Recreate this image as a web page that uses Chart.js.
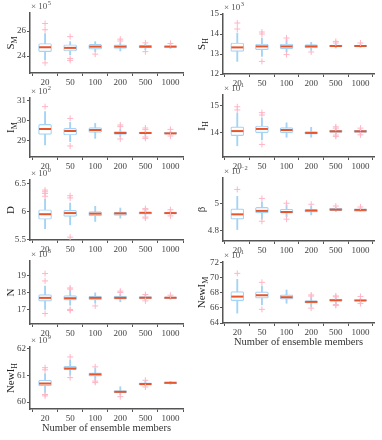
<!DOCTYPE html>
<html>
<head>
<meta charset="utf-8">
<script src="https://cdn.jsdelivr.net/npm/chart.js@4.4.0/dist/chart.umd.min.js"></script>
<style>
  html, body { margin: 0; padding: 0; background: #fff; }
  #wrap { position: relative; width: 382px; height: 440px; overflow: hidden; }
  #wrap canvas { position: absolute; }
</style>
</head>
<body>
<div id="wrap"></div>
<script>
// Taille d'ensemble (axe x commun)
const members = ['20', '50', '100', '200', '500', '1000'];

// Statistiques des boîtes : [moustache basse, Q1, médiane, Q3, moustache haute]
const sMBox = [[23.7, 24.35, 24.7, 25.0, 25.8], [24.1, 24.4, 24.65, 24.9, 25.15], [24.35, 24.55, 24.75, 24.93, 25.15], [24.4, 24.6, 24.75, 24.9, 25.05], [24.5, 24.65, 24.75, 24.85, 24.95], [24.6, 24.68, 24.75, 24.82, 24.9]];
const sMOut = [[26.6, 26.1, 23.45], [25.55, 23.8, 23.65], [24.15], [25.35, 25.2], [25.05, 24.35], [25.0]];
const sMTicks = [24, 26];

const sHBox = [[12.63, 13.13, 13.33, 13.55, 14.05], [12.88, 13.22, 13.38, 13.5, 13.8], [13.1, 13.27, 13.38, 13.5, 13.72], [13.18, 13.3, 13.38, 13.47, 13.58], [13.3, 13.35, 13.4, 13.45, 13.5], [13.33, 13.36, 13.4, 13.44, 13.48]];
const sHOut = [[14.55, 14.25], [14.1, 14.0, 12.63], [13.8, 12.97], [13.1], [13.63, 13.55], [13.55]];
const sHTicks = [12, 13, 14, 15];

const iMBox = [[28.8, 29.33, 29.6, 29.83, 30.47], [28.97, 29.3, 29.5, 29.63, 29.93], [29.13, 29.43, 29.55, 29.67, 29.88], [29.2, 29.33, 29.4, 29.47, 29.6], [29.28, 29.35, 29.4, 29.45, 29.5], [29.3, 29.35, 29.38, 29.43, 29.48]];
const iMOut = [[30.72], [30.13, 28.75], [], [29.8, 29.72, 29.1], [29.65, 29.57, 29.2, 29.13], [29.58, 29.25]];
const iMTicks = [29, 30, 31];

const iHBox = [[13.51, 13.89, 14.06, 14.22, 14.73], [13.73, 14.0, 14.14, 14.25, 14.54], [13.83, 14.0, 14.1, 14.19, 14.37], [13.83, 13.94, 13.99, 14.04, 14.2], [13.95, 14.01, 14.05, 14.1, 14.15], [13.97, 14.01, 14.05, 14.09, 14.12]];
const iHOut = [[14.97, 14.85], [14.75, 14.66, 13.56], [], [], [14.22, 14.17, 13.91, 13.86], [14.17, 13.92]];
const iHTicks = [14, 15];

const dBox = [[5.69, 5.86, 5.95, 6.03, 6.22], [5.76, 5.91, 5.97, 6.02, 6.15], [5.82, 5.92, 5.96, 5.995, 6.09], [5.88, 5.93, 5.965, 5.99, 6.06], [5.93, 5.95, 5.975, 5.99, 6.02], [5.94, 5.955, 5.97, 5.99, 6.01]];
const dOut = [[6.38, 6.35, 6.32, 6.27], [6.28, 6.24, 5.54], [], [], [6.05, 6.03, 5.9, 5.88], [6.03, 5.92]];
const dTicks = [5.5, 6, 6.5];

const betaBox = [[4.81, 4.885, 4.92, 4.96, 5.05], [4.885, 4.93, 4.945, 4.97, 5.01], [4.903, 4.928, 4.937, 4.957, 4.988], [4.916, 4.935, 4.947, 4.957, 4.98], [4.94, 4.947, 4.954, 4.964, 4.97], [4.94, 4.942, 4.952, 4.959, 4.965]];
const betaOut = [[5.10], [5.035, 4.87], [5.0, 4.885], [4.993], [4.98], [4.973]];
const betaTicks = [4.8, 5];

const nBox = [[17.0, 17.48, 17.68, 17.88, 18.38], [17.24, 17.54, 17.66, 17.82, 18.14], [17.38, 17.58, 17.68, 17.78, 17.98], [17.45, 17.6, 17.68, 17.78, 17.9], [17.58, 17.62, 17.69, 17.75, 17.82], [17.6, 17.64, 17.69, 17.73, 17.78]];
const nOut = [[19.13, 18.69, 16.75], [18.27, 18.2, 16.99, 16.93], [17.2], [18.08, 18.0], [17.88, 17.5], [17.84]];
const nTicks = [17, 18, 19];

const newIMBox = [[65.3, 66.95, 67.48, 68.13, 69.75], [66.4, 67.27, 67.66, 68.1, 68.88], [66.6, 67.14, 67.4, 67.7, 68.35], [66.17, 66.6, 66.78, 66.95, 67.4], [66.5, 66.88, 67.0, 67.14, 67.35], [66.7, 66.9, 66.97, 67.05, 67.2]];
const newIMOut = [[70.54], [69.36, 65.8], [], [67.7, 67.55, 65.96], [67.57, 67.45, 66.43, 66.3], [67.5, 66.56]];
const newIMTicks = [64, 66, 68, 70, 72];

const newIHBox = [[60.36, 60.6, 60.69, 60.815, 61.06], [61.0, 61.21, 61.25, 61.33, 61.56], [60.84, 60.96, 61.03, 61.09, 61.25], [60.26, 60.35, 60.38, 60.43, 60.57], [60.61, 60.63, 60.67, 60.715, 60.77], [60.66, 60.68, 60.715, 60.75, 60.77]];
const newIHOut = [[61.28, 61.2, 60.28, 60.23], [61.68, 60.91], [61.31, 60.78, 60.73], [60.2], [60.81, 60.56], []];
const newIHTicks = [60, 61, 62];

const SERIF = '"Liberation Serif", "Times New Roman", serif';
const BLUE = '#a3d3f5';
const ORANGE = '#e8552b';
const PINK = '#ffb5c5';
const AXIS = '#555';

// Panneaux : zone du graphique [gauche, haut, droite, bas] en pixels de page
const panels = [
  { box: sMBox, out: sMOut, ticks: sMTicks, min: 22.64, max: 27.44, title: 'S', sub: 'M', exp: '5', col: 0, area: [30, 13, 185, 73] },
  { box: sHBox, out: sHOut, ticks: sHTicks, min: 12, max: 15, title: 'S', sub: 'H', exp: '3', col: 1, area: [223, 14, 379, 74] },
  { box: iMBox, out: iMOut, ticks: iMTicks, min: 28.2, max: 31.15, title: 'I', sub: 'M', exp: '2', col: 0, area: [30, 98, 185, 157] },
  { box: iHBox, out: iHOut, ticks: iHTicks, min: 13.09, max: 15.41, title: 'I', sub: 'H', exp: '1', col: 1, area: [223, 95, 379, 157] },
  { box: dBox, out: dOut, ticks: dTicks, min: 5.49, max: 6.56, title: 'D', sub: '', exp: '0', col: 0, area: [30, 180, 185, 240] },
  { box: betaBox, out: betaOut, ticks: betaTicks, min: 4.727, max: 5.183, title: 'β', sub: '', exp: '−2', col: 1, area: [223, 178, 379, 241] },
  { box: nBox, out: nOut, ticks: nTicks, min: 16.125, max: 19.875, title: 'N', sub: '', exp: '3', col: 0, area: [30, 261, 185, 324] },
  { box: newIMBox, out: newIMOut, ticks: newIMTicks, min: 64, max: 72.04, title: 'NewI', sub: 'M', exp: '1', col: 1, area: [223, 262, 379, 323], xTitle: true },
  { box: newIHBox, out: newIHOut, ticks: newIHTicks, min: 59.74, max: 62.05, title: 'NewI', sub: 'H', exp: '9', col: 0, area: [30, 347, 185, 409], xTitle: true }
];

// Plugin pour les textes : multiplicateur, titre y avec indice, titre x
const panelText = {
  id: 'panelText',
  afterDraw(chart, args, opts) {
    const ctx = chart.ctx;
    const a = chart.chartArea;
    ctx.save();
    ctx.textAlign = 'left';
    ctx.textBaseline = 'alphabetic';
    ctx.fillStyle = '#555';
    ctx.font = '9px ' + SERIF;
    let x = a.left + 1;
    const y = a.top - 4;
    ctx.fillText('× 10', x, y);
    x += ctx.measureText('× 10').width + 0.5;
    ctx.font = '6.5px ' + SERIF;
    ctx.fillText(opts.exp, x, y - 4);

    if (opts.xTitle) {
      ctx.fillStyle = '#333';
      ctx.font = '10.5px ' + SERIF;
      ctx.textAlign = 'center';
      ctx.textBaseline = 'middle';
      ctx.fillText('Number of ensemble members', (a.left + a.right) / 2, a.bottom + 19);
    }

    ctx.fillStyle = '#222';
    ctx.textAlign = 'left';
    ctx.textBaseline = 'alphabetic';
    ctx.translate(10, (a.top + a.bottom) / 2);
    ctx.rotate(-Math.PI / 2);
    ctx.font = '11px ' + SERIF;
    const w1 = ctx.measureText(opts.title).width;
    ctx.font = '8px ' + SERIF;
    const w2 = opts.sub ? ctx.measureText(opts.sub).width : 0;
    const start = -(w1 + w2) / 2;
    ctx.font = '11px ' + SERIF;
    ctx.fillText(opts.title, start, 4);
    if (opts.sub) {
      ctx.font = '8px ' + SERIF;
      ctx.fillText(opts.sub, start + w1, 6.5);
    }
    ctx.restore();
  }
};

function makePanel(p) {
  const wrap = document.getElementById('wrap');
  const left = p.col * 191;
  const padTop = 15;
  const xH = p.xTitle ? 31 : 16;
  const canvas = document.createElement('canvas');
  canvas.width = 191;
  canvas.height = p.area[3] - p.area[1] + padTop + xH;
  canvas.style.left = left + 'px';
  canvas.style.top = (p.area[1] - padTop) + 'px';
  wrap.appendChild(canvas);

  const yW = p.area[0] - left;
  const padRight = left + 191 - p.area[2];
  const idx = members.map((m, i) => i);

  const outliers = [];
  p.out.forEach((vals, i) => vals.forEach(v => outliers.push({ x: i, y: v })));

  new Chart(canvas, {
    type: 'bar',
    data: {
      datasets: [
        {
          type: 'line', data: outliers, showLine: false, order: 0,
          pointStyle: 'cross', pointRadius: 3, pointBorderColor: PINK, pointBorderWidth: 1
        },
        {
          type: 'line', data: p.box.map((b, i) => ({ x: i, y: b[2] })), showLine: false, order: 1,
          pointStyle: 'line', pointRadius: 6, pointBorderColor: ORANGE, pointBorderWidth: 2, borderColor: ORANGE
        },
        {
          data: p.box.map((b, i) => ({ x: i, y: [b[1], b[3]] })), order: 2,
          backgroundColor: '#fff', borderColor: BLUE, borderWidth: 1.2, borderSkipped: false,
          borderRadius: 1.5, barThickness: 13, grouped: false
        },
        {
          data: p.box.map((b, i) => ({ x: i, y: [b[0], b[4]] })), order: 3,
          backgroundColor: BLUE, borderWidth: 0, barThickness: 1.2, grouped: false
        }
      ]
    },
    options: {
      responsive: false,
      animation: false,
      events: [],
      layout: { padding: { top: padTop, right: padRight, left: 0, bottom: 0 } },
      plugins: {
        legend: { display: false },
        tooltip: { enabled: false },
        panelText: { title: p.title, sub: p.sub, exp: p.exp, xTitle: p.xTitle }
      },
      scales: {
        x: {
          type: 'linear',
          min: p.col === 0 ? -0.6 : -0.58,
          max: p.col === 0 ? 5.5 : 5.55,
          offset: false,
          afterBuildTicks: s => { s.ticks = idx.map(v => ({ value: v })); },
          afterFit: s => { s.height = xH; },
          ticks: {
            callback: v => members[v],
            font: { family: SERIF, size: 9 }, color: '#444',
            padding: 1, maxRotation: 0, autoSkip: false
          },
          grid: { drawOnChartArea: false, tickLength: 3, color: AXIS },
          border: { color: AXIS, width: 1.5 }
        },
        y: {
          min: p.min,
          max: p.max,
          afterBuildTicks: s => { s.ticks = p.ticks.map(v => ({ value: v })); },
          afterFit: s => { s.width = yW; },
          ticks: {
            callback: v => String(v),
            font: { family: SERIF, size: 9 }, color: '#444', padding: 1
          },
          grid: { drawOnChartArea: false, tickLength: 3, color: AXIS },
          border: { color: AXIS, width: 1.5 }
        }
      }
    },
    plugins: [panelText]
  });
}

document.addEventListener('DOMContentLoaded', function() {
  panels.forEach(makePanel);
});
</script>
</body>
</html>
